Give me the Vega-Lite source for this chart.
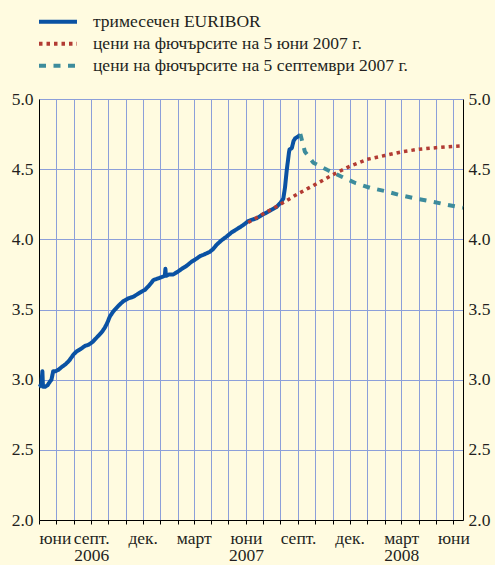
{
  "$schema": "https://vega.github.io/schema/vega-lite/v6.json",
  "width": 424,
  "height": 421,
  "autosize": {"type": "none"},
  "padding": {"left": 39, "top": 99, "right": 32, "bottom": 45},
  "background": "#fffbe0",
  "config": {
    "view": {"stroke": null},
    "font": "Times New Roman, Liberation Serif, serif",
    "axis": {
      "labelFont": "Times New Roman, Liberation Serif, serif",
      "labelFontSize": 17.5,
      "labelColor": "#231f20",
      "domainColor": "#000000",
      "domainWidth": 1,
      "tickColor": "#000000",
      "gridColor": "#8c9fd9",
      "gridWidth": 1,
      "gridOpacity": 1,
      "title": null
    },
    "legend": {
      "orient": "none",
      "legendX": -2,
      "legendY": -88,
      "title": null,
      "padding": 0,
      "labelFont": "Times New Roman, Liberation Serif, serif",
      "labelFontSize": 17.5,
      "labelColor": "#231f20",
      "labelOffset": 14,
      "labelLimit": 450,
      "symbolType": "stroke",
      "symbolSize": 1444,
      "symbolStrokeWidth": 4,
      "clipHeight": 21.5,
      "rowPadding": 0
    }
  },
  "datasets": {
    "rates": [
      {"date": "2006-06-01", "rate": 2.95, "series": "тримесечен EURIBOR"},
      {"date": "2006-06-05", "rate": 2.96, "series": "тримесечен EURIBOR"},
      {"date": "2006-06-07", "rate": 3.06, "series": "тримесечен EURIBOR"},
      {"date": "2006-06-08", "rate": 2.95, "series": "тримесечен EURIBOR"},
      {"date": "2006-06-12", "rate": 2.95, "series": "тримесечен EURIBOR"},
      {"date": "2006-06-16", "rate": 2.96, "series": "тримесечен EURIBOR"},
      {"date": "2006-06-21", "rate": 2.99, "series": "тримесечен EURIBOR"},
      {"date": "2006-06-23", "rate": 3.00, "series": "тримесечен EURIBOR"},
      {"date": "2006-06-26", "rate": 3.06, "series": "тримесечен EURIBOR"},
      {"date": "2006-06-30", "rate": 3.06, "series": "тримесечен EURIBOR"},
      {"date": "2006-07-05", "rate": 3.07, "series": "тримесечен EURIBOR"},
      {"date": "2006-07-11", "rate": 3.09, "series": "тримесечен EURIBOR"},
      {"date": "2006-07-18", "rate": 3.11, "series": "тримесечен EURIBOR"},
      {"date": "2006-07-25", "rate": 3.14, "series": "тримесечен EURIBOR"},
      {"date": "2006-08-01", "rate": 3.18, "series": "тримесечен EURIBOR"},
      {"date": "2006-08-06", "rate": 3.20, "series": "тримесечен EURIBOR"},
      {"date": "2006-08-14", "rate": 3.22, "series": "тримесечен EURIBOR"},
      {"date": "2006-08-21", "rate": 3.24, "series": "тримесечен EURIBOR"},
      {"date": "2006-08-28", "rate": 3.25, "series": "тримесечен EURIBOR"},
      {"date": "2006-09-04", "rate": 3.27, "series": "тримесечен EURIBOR"},
      {"date": "2006-09-13", "rate": 3.31, "series": "тримесечен EURIBOR"},
      {"date": "2006-09-20", "rate": 3.34, "series": "тримесечен EURIBOR"},
      {"date": "2006-09-25", "rate": 3.37, "series": "тримесечен EURIBOR"},
      {"date": "2006-09-29", "rate": 3.40, "series": "тримесечен EURIBOR"},
      {"date": "2006-10-04", "rate": 3.45, "series": "тримесечен EURIBOR"},
      {"date": "2006-10-09", "rate": 3.48, "series": "тримесечен EURIBOR"},
      {"date": "2006-10-13", "rate": 3.50, "series": "тримесечен EURIBOR"},
      {"date": "2006-10-20", "rate": 3.53, "series": "тримесечен EURIBOR"},
      {"date": "2006-10-28", "rate": 3.56, "series": "тримесечен EURIBOR"},
      {"date": "2006-11-06", "rate": 3.58, "series": "тримесечен EURIBOR"},
      {"date": "2006-11-14", "rate": 3.59, "series": "тримесечен EURIBOR"},
      {"date": "2006-11-22", "rate": 3.61, "series": "тримесечен EURIBOR"},
      {"date": "2006-11-30", "rate": 3.63, "series": "тримесечен EURIBOR"},
      {"date": "2006-12-05", "rate": 3.64, "series": "тримесечен EURIBOR"},
      {"date": "2006-12-12", "rate": 3.67, "series": "тримесечен EURIBOR"},
      {"date": "2006-12-20", "rate": 3.71, "series": "тримесечен EURIBOR"},
      {"date": "2006-12-27", "rate": 3.72, "series": "тримесечен EURIBOR"},
      {"date": "2007-01-03", "rate": 3.73, "series": "тримесечен EURIBOR"},
      {"date": "2007-01-09", "rate": 3.74, "series": "тримесечен EURIBOR"},
      {"date": "2007-01-10", "rate": 3.79, "series": "тримесечен EURIBOR"},
      {"date": "2007-01-11", "rate": 3.74, "series": "тримесечен EURIBOR"},
      {"date": "2007-01-17", "rate": 3.75, "series": "тримесечен EURIBOR"},
      {"date": "2007-01-24", "rate": 3.75, "series": "тримесечен EURIBOR"},
      {"date": "2007-02-01", "rate": 3.77, "series": "тримесечен EURIBOR"},
      {"date": "2007-02-08", "rate": 3.79, "series": "тримесечен EURIBOR"},
      {"date": "2007-02-16", "rate": 3.81, "series": "тримесечен EURIBOR"},
      {"date": "2007-02-25", "rate": 3.84, "series": "тримесечен EURIBOR"},
      {"date": "2007-03-05", "rate": 3.86, "series": "тримесечен EURIBOR"},
      {"date": "2007-03-12", "rate": 3.88, "series": "тримесечен EURIBOR"},
      {"date": "2007-03-18", "rate": 3.89, "series": "тримесечен EURIBOR"},
      {"date": "2007-03-29", "rate": 3.91, "series": "тримесечен EURIBOR"},
      {"date": "2007-04-04", "rate": 3.93, "series": "тримесечен EURIBOR"},
      {"date": "2007-04-10", "rate": 3.96, "series": "тримесечен EURIBOR"},
      {"date": "2007-04-18", "rate": 3.99, "series": "тримесечен EURIBOR"},
      {"date": "2007-04-28", "rate": 4.02, "series": "тримесечен EURIBOR"},
      {"date": "2007-05-07", "rate": 4.05, "series": "тримесечен EURIBOR"},
      {"date": "2007-05-15", "rate": 4.07, "series": "тримесечен EURIBOR"},
      {"date": "2007-05-23", "rate": 4.09, "series": "тримесечен EURIBOR"},
      {"date": "2007-05-30", "rate": 4.11, "series": "тримесечен EURIBOR"},
      {"date": "2007-06-05", "rate": 4.13, "series": "тримесечен EURIBOR"},
      {"date": "2007-06-12", "rate": 4.14, "series": "тримесечен EURIBOR"},
      {"date": "2007-06-20", "rate": 4.15, "series": "тримесечен EURIBOR"},
      {"date": "2007-06-28", "rate": 4.17, "series": "тримесечен EURIBOR"},
      {"date": "2007-07-07", "rate": 4.19, "series": "тримесечен EURIBOR"},
      {"date": "2007-07-16", "rate": 4.21, "series": "тримесечен EURIBOR"},
      {"date": "2007-07-25", "rate": 4.23, "series": "тримесечен EURIBOR"},
      {"date": "2007-08-01", "rate": 4.26, "series": "тримесечен EURIBOR"},
      {"date": "2007-08-06", "rate": 4.29, "series": "тримесечен EURIBOR"},
      {"date": "2007-08-09", "rate": 4.37, "series": "тримесечен EURIBOR"},
      {"date": "2007-08-12", "rate": 4.49, "series": "тримесечен EURIBOR"},
      {"date": "2007-08-16", "rate": 4.62, "series": "тримесечен EURIBOR"},
      {"date": "2007-08-17", "rate": 4.64, "series": "тримесечен EURIBOR"},
      {"date": "2007-08-21", "rate": 4.65, "series": "тримесечен EURIBOR"},
      {"date": "2007-08-24", "rate": 4.70, "series": "тримесечен EURIBOR"},
      {"date": "2007-08-27", "rate": 4.72, "series": "тримесечен EURIBOR"},
      {"date": "2007-08-31", "rate": 4.73, "series": "тримесечен EURIBOR"},
      {"date": "2007-09-05", "rate": 4.745, "series": "тримесечен EURIBOR"},
      {"date": "2007-09-05", "rate": 4.75, "series": "цени на фючърсите на 5 септември 2007 г."},
      {"date": "2007-09-13", "rate": 4.625, "series": "цени на фючърсите на 5 септември 2007 г."},
      {"date": "2007-09-28", "rate": 4.546, "series": "цени на фючърсите на 5 септември 2007 г."},
      {"date": "2007-10-23", "rate": 4.494, "series": "цени на фючърсите на 5 септември 2007 г."},
      {"date": "2007-11-17", "rate": 4.446, "series": "цени на фючърсите на 5 септември 2007 г."},
      {"date": "2007-12-12", "rate": 4.40, "series": "цени на фючърсите на 5 септември 2007 г."},
      {"date": "2008-01-07", "rate": 4.366, "series": "цени на фючърсите на 5 септември 2007 г."},
      {"date": "2008-02-03", "rate": 4.342, "series": "цени на фючърсите на 5 септември 2007 г."},
      {"date": "2008-03-01", "rate": 4.313, "series": "цени на фючърсите на 5 септември 2007 г."},
      {"date": "2008-03-27", "rate": 4.29, "series": "цени на фючърсите на 5 септември 2007 г."},
      {"date": "2008-04-23", "rate": 4.27, "series": "цени на фючърсите на 5 септември 2007 г."},
      {"date": "2008-05-20", "rate": 4.247, "series": "цени на фючърсите на 5 септември 2007 г."},
      {"date": "2008-06-18", "rate": 4.225, "series": "цени на фючърсите на 5 септември 2007 г."},
      {"date": "2007-06-05", "rate": 4.12, "series": "цени на фючърсите на 5 юни 2007 г."},
      {"date": "2007-07-01", "rate": 4.18, "series": "цени на фючърсите на 5 юни 2007 г."},
      {"date": "2007-08-01", "rate": 4.25, "series": "цени на фючърсите на 5 юни 2007 г."},
      {"date": "2007-09-01", "rate": 4.325, "series": "цени на фючърсите на 5 юни 2007 г."},
      {"date": "2007-10-01", "rate": 4.39, "series": "цени на фючърсите на 5 юни 2007 г."},
      {"date": "2007-11-01", "rate": 4.46, "series": "цени на фючърсите на 5 юни 2007 г."},
      {"date": "2007-12-01", "rate": 4.52, "series": "цени на фючърсите на 5 юни 2007 г."},
      {"date": "2008-01-01", "rate": 4.57, "series": "цени на фючърсите на 5 юни 2007 г."},
      {"date": "2008-02-01", "rate": 4.597, "series": "цени на фючърсите на 5 юни 2007 г."},
      {"date": "2008-03-01", "rate": 4.623, "series": "цени на фючърсите на 5 юни 2007 г."},
      {"date": "2008-04-01", "rate": 4.642, "series": "цени на фючърсите на 5 юни 2007 г."},
      {"date": "2008-05-01", "rate": 4.653, "series": "цени на фючърсите на 5 юни 2007 г."},
      {"date": "2008-06-01", "rate": 4.663, "series": "цени на фючърсите на 5 юни 2007 г."},
      {"date": "2008-06-18", "rate": 4.667, "series": "цени на фючърсите на 5 юни 2007 г."}
    ]
  },
  "data": {"name": "rates"},
  "encoding": {
    "x": {
      "field": "date",
      "type": "temporal",
      "scale": {
        "type": "utc",
        "domain": [
          {"year": 2006, "month": 6, "date": 1, "utc": true},
          {"year": 2008, "month": 6, "date": 18, "utc": true}
        ]
      },
      "axis": {
        "orient": "bottom",
        "grid": true,
        "tickCount": {"interval": "month", "step": 1},
        "tickSize": 4,
        "labelOverlap": false,
        "labelPadding": 5,
        "labelFontSize": 17.5,
        "labelLineHeight": 17.5,
        "labelExpr": "utcmonth(datum.value)==5 ? (utcyear(datum.value)==2007 ? ['юни','2007'] : 'юни') : utcmonth(datum.value)==8 ? (utcyear(datum.value)==2006 ? ['септ.','2006'] : 'септ.') : utcmonth(datum.value)==11 ? 'дек.' : utcmonth(datum.value)==2 ? (utcyear(datum.value)==2008 ? ['март','2008'] : 'март') : ''"
      }
    }
  },
  "layer": [
    {
      "transform": [{"filter": {"field": "series", "equal": "тримесечен EURIBOR"}}],
      "mark": {"type": "line", "strokeWidth": 4, "strokeJoin": "round", "strokeCap": "butt"},
      "encoding": {
        "y": {
          "field": "rate",
          "type": "quantitative",
          "scale": {"domain": [2, 5], "nice": false, "zero": false},
          "axis": {"orient": "left", "values": [2, 2.5, 3, 3.5, 4, 4.5, 5], "format": ".1f", "ticks": false, "grid": true, "labelPadding": 6, "labelFontSize": 17.5}
        },
        "color": {
          "field": "series",
          "type": "nominal",
          "scale": {
            "domain": ["тримесечен EURIBOR", "цени на фючърсите на 5 юни 2007 г.", "цени на фючърсите на 5 септември 2007 г."],
            "range": ["#0a52a3", "#b23b33", "#3d8c9c"]
          }
        },
        "strokeDash": {
          "field": "series",
          "type": "nominal",
          "scale": {
            "domain": ["тримесечен EURIBOR", "цени на фючърсите на 5 юни 2007 г.", "цени на фючърсите на 5 септември 2007 г."],
            "range": [[1, 0], [3.5, 4], [7, 7.5]]
          }
        }
      }
    },
    {
      "transform": [{"filter": {"field": "series", "equal": "цени на фючърсите на 5 септември 2007 г."}}],
      "mark": {"type": "line", "strokeWidth": 4, "strokeCap": "butt"},
      "encoding": {
        "y": {"field": "rate", "type": "quantitative", "axis": null},
        "color": {"field": "series", "type": "nominal"},
        "strokeDash": {"field": "series", "type": "nominal"}
      }
    },
    {
      "transform": [{"filter": {"field": "series", "equal": "цени на фючърсите на 5 юни 2007 г."}}],
      "mark": {"type": "line", "strokeWidth": 3.5, "strokeCap": "butt"},
      "encoding": {
        "y": {"field": "rate", "type": "quantitative", "axis": null},
        "color": {"field": "series", "type": "nominal"},
        "strokeDash": {"field": "series", "type": "nominal"}
      }
    },
    {
      "mark": {"type": "line", "opacity": 0},
      "encoding": {
        "y": {
          "field": "rate",
          "type": "quantitative",
          "axis": {"orient": "right", "values": [2, 2.5, 3, 3.5, 4, 4.5, 5], "format": ".1f", "ticks": false, "grid": false, "labelPadding": 5, "labelFontSize": 17.5}
        },
        "detail": {"field": "series", "type": "nominal"}
      }
    }
  ],
  "resolve": {"axis": {"y": "independent"}}
}
